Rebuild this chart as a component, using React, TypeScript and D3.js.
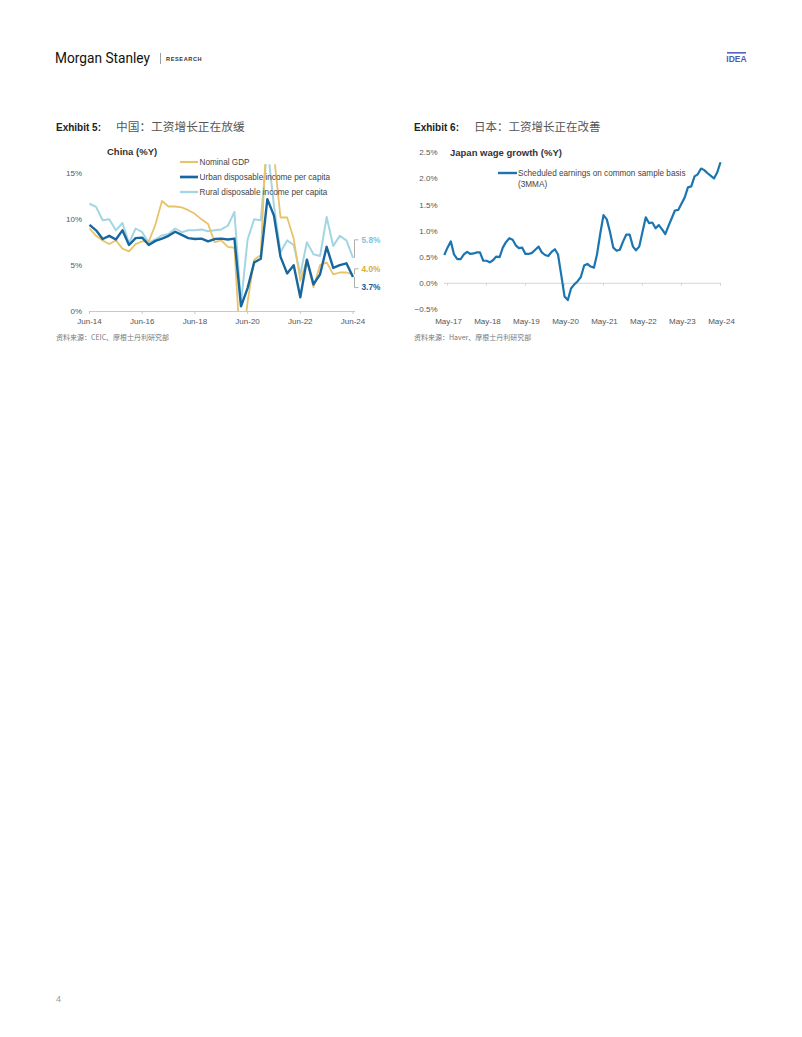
import React from "react";
import * as d3 from "d3";

const FONT = "'Liberation Sans', Arial, Helvetica, sans-serif";
const CJK = "'Noto Sans CJK SC', 'Noto Sans', sans-serif";

// ---------- Exhibit 5: China ----------
const chinaQuarters = [
  "Jun-14","Sep-14","Dec-14","Mar-15","Jun-15","Sep-15","Dec-15","Mar-16","Jun-16","Sep-16",
  "Dec-16","Mar-17","Jun-17","Sep-17","Dec-17","Mar-18","Jun-18","Sep-18","Dec-18","Mar-19",
  "Jun-19","Sep-19","Dec-19","Mar-20","Jun-20","Sep-20","Dec-20","Mar-21","Jun-21","Sep-21",
  "Dec-21","Mar-22","Jun-22","Sep-22","Dec-22","Mar-23","Jun-23","Sep-23","Dec-23","Mar-24","Jun-24",
];
const nominalGDP = [
  9.0, 8.2, 7.7, 7.3, 7.7, 6.8, 6.5, 7.3, 7.6, 7.6,
  9.4, 12.0, 11.4, 11.4, 11.3, 11.0, 10.6, 10.0, 9.5, 7.5,
  7.7, 7.0, 6.9, -5.3, 1.0, 5.6, 6.1, 21.2, 17.0, 10.2,
  10.2, 7.9, 3.3, 5.6, 2.6, 5.0, 5.3, 4.0, 4.2, 4.2, 4.0,
];
const urbanIncome = [
  9.4, 8.8, 7.85, 8.2, 7.8, 8.8, 7.2, 7.95, 8.0, 7.2,
  7.65, 7.9, 8.2, 8.65, 8.3, 7.95, 7.85, 7.9, 7.6, 7.85,
  7.9, 7.8, 7.9, 0.5, 2.5, 5.3, 5.7, 12.2, 10.4, 5.9,
  4.1, 5.0, 1.5, 5.6, 2.9, 4.0, 7.0, 4.7, 5.0, 5.2, 3.7,
];
const ruralIncome = [
  11.7, 11.35, 9.9, 10.0, 8.8, 9.6, 7.4, 9.0, 8.6, 7.45,
  7.8, 8.25, 8.4, 9.0, 8.6, 8.8, 8.8, 8.9, 8.7, 8.8,
  8.9, 9.3, 10.8, 0.8, 7.8, 10.0, 9.9, 18.0, 11.5, 6.4,
  7.7, 7.2, 4.0, 7.5, 6.2, 6.0, 10.25, 7.1, 8.2, 7.7, 5.8,
];
const chinaTickLabels = ["Jun-14", "Jun-16", "Jun-18", "Jun-20", "Jun-22", "Jun-24"];
const chinaYTicks = [0, 5, 10, 15];
const chinaSeriesNames = [
  "Nominal GDP",
  "Urban disposable income per capita",
  "Rural disposable income per capita",
];
const chinaEndLabels = ["5.8%", "4.0%", "3.7%"];

// ---------- Exhibit 6: Japan ----------
const japanStart = "2017-04";
const japanWage = [
  0.54, 0.68, 0.80, 0.55, 0.46, 0.46, 0.55, 0.60, 0.56, 0.57,
  0.59, 0.59, 0.43, 0.43, 0.40, 0.44, 0.51, 0.50, 0.68, 0.79,
  0.86, 0.83, 0.72, 0.67, 0.68, 0.56, 0.56, 0.58, 0.64, 0.70,
  0.59, 0.54, 0.52, 0.60, 0.65, 0.55, 0.15, -0.25, -0.32, -0.10,
  -0.02, 0.04, 0.12, 0.34, 0.37, 0.32, 0.30, 0.55, 0.95, 1.30,
  1.22, 0.98, 0.68, 0.62, 0.64, 0.80, 0.93, 0.93, 0.70, 0.63,
  0.70, 0.98, 1.26, 1.15, 1.16, 1.05, 1.11, 1.03, 0.94, 1.10,
  1.25, 1.39, 1.40, 1.52, 1.64, 1.83, 1.85, 2.04, 2.08, 2.19,
  2.16, 2.10, 2.05, 2.00, 2.12, 2.31,
];
const japanTickLabels = ["May-17", "May-18", "May-19", "May-20", "May-21", "May-22", "May-23", "May-24"];
const japanYTicks = [-0.5, 0, 0.5, 1.0, 1.5, 2.0, 2.5];

const GDP_C = "#E8C36A";
const URB_C = "#17679E";
const RUR_C = "#A3D6E2";
const JP_C = "#1C75B0";
const TXT = "#444";
const TICK = "#555";

function ChinaChart() {
  const x = d3.scaleLinear().domain([0, chinaQuarters.length - 1]).range([89.5, 353]);
  const y = d3.scaleLinear().domain([0, 15]).range([311, 173.5]);
  const yTop = y(16);
  const line = d3
    .line<number>()
    .x((_, i) => x(i))
    .y((d) => y(d));
  const series = [
    { data: ruralIncome, color: RUR_C, w: 2 },
    { data: nominalGDP, color: GDP_C, w: 1.8 },
    { data: urbanIncome, color: URB_C, w: 2.4 },
  ];
  const legend = [
    { name: chinaSeriesNames[0], color: GDP_C, w: 1.8 },
    { name: chinaSeriesNames[1], color: URB_C, w: 2.4 },
    { name: chinaSeriesNames[2], color: RUR_C, w: 2 },
  ];
  const last = chinaQuarters.length - 1;
  const ends = [
    { v: ruralIncome[last], label: chinaEndLabels[0], color: "#7FC3DC", off: -18 },
    { v: nominalGDP[last], label: chinaEndLabels[1], color: "#D9AE33", off: -5.5 },
    { v: urbanIncome[last], label: chinaEndLabels[2], color: "#1A5C93", off: 10.5 },
  ];
  const endX = x(last);
  return (
    <g>
      <defs>
        <clipPath id="chinaClip">
          <rect x={80} y={yTop} width={290} height={y(0) - yTop} />
        </clipPath>
      </defs>
      <text x={56} y={131} fontFamily={FONT} fontWeight="bold" fontSize={10} fill="#222">
        Exhibit 5:
      </text>
      <text x={116} y={131} fontFamily={CJK} fontSize={11.7} fill="#555">
        中国：工资增长正在放缓
      </text>
      <text x={107} y={155} fontFamily={FONT} fontWeight="bold" fontSize={9.5} fill="#333">
        China (%Y)
      </text>
      {chinaYTicks.map((t) => (
        <text key={t} x={82} y={y(t)} dy="0.35em" textAnchor="end" fontFamily={FONT} fontSize={8} fill={TICK}>
          {t}%
        </text>
      ))}
      <line x1={89} x2={355} y1={y(0) + 0.5} y2={y(0) + 0.5} stroke="#bbb" strokeWidth={0.8} />
      {chinaTickLabels.map((l) => {
        const i = chinaQuarters.indexOf(l);
        return (
          <g key={l}>
            <line x1={x(i)} x2={x(i)} y1={y(0) + 0.5} y2={y(0) + 3} stroke="#bbb" strokeWidth={0.8} />
            <text x={x(i)} y={323.5} textAnchor="middle" fontFamily={FONT} fontSize={8} fill={TICK}>
              {l}
            </text>
          </g>
        );
      })}
      <g clipPath="url(#chinaClip)">
        {series.map((s, k) => (
          <path key={k} d={line(s.data) || ""} fill="none" stroke={s.color} strokeWidth={s.w} strokeLinejoin="round" />
        ))}
      </g>
      {legend.map((l, k) => (
        <g key={l.name}>
          <line x1={180} x2={198} y1={162 + k * 15} y2={162 + k * 15} stroke={l.color} strokeWidth={l.w + 0.3} />
          <text x={199.5} y={162 + k * 15} dy="0.35em" fontFamily={FONT} fontSize={8.2} fill={TXT}>
            {l.name}
          </text>
        </g>
      ))}
      {ends.map((e) => {
        const ly = y(e.v) + e.off;
        return (
          <g key={e.label}>
            <polyline
              points={`${endX + 1.5},${y(e.v)} ${endX + 1.5},${ly} ${endX + 5.5},${ly}`}
              fill="none"
              stroke="#999"
              strokeWidth={0.8}
            />
            <text x={361.5} y={ly} dy="0.35em" fontFamily={FONT} fontWeight="bold" fontSize={8.3} fill={e.color}>
              {e.label}
            </text>
          </g>
        );
      })}
      <text x={56} y={340} fontFamily={CJK} fontSize={7} fill="#777">
        资料来源：CEIC、摩根士丹利研究部
      </text>
    </g>
  );
}

function JapanChart() {
  const [sy, sm] = japanStart.split("-").map(Number);
  const months = japanWage.map((_, i) => new Date(sy, sm - 1 + i, 1));
  const x = d3.scaleTime().domain([months[0], months[months.length - 1]]).range([444.3, 720.5]);
  const y = d3.scaleLinear().domain([-0.5, 2.5]).range([309.5, 152.3]);
  const line = d3
    .line<number>()
    .x((_, i) => x(months[i]))
    .y((d) => y(d));
  const tickDates = japanTickLabels.map((l) => new Date(2000 + Number(l.slice(4)), 4, 1));
  const fmt = d3.format(".1f");
  return (
    <g>
      <text x={414} y={131} fontFamily={FONT} fontWeight="bold" fontSize={10} fill="#222">
        Exhibit 6:
      </text>
      <text x={474} y={131} fontFamily={CJK} fontSize={11.5} fill="#555">
        日本：工资增长正在改善
      </text>
      <text x={450} y={156} fontFamily={FONT} fontWeight="bold" fontSize={9.5} fill="#333">
        Japan wage growth (%Y)
      </text>
      {japanYTicks.map((t) => (
        <text key={t} x={437.5} y={y(t)} dy="0.35em" textAnchor="end" fontFamily={FONT} fontSize={8} fill={TICK}>
          {fmt(t)}%
        </text>
      ))}
      <line x1={444} x2={721} y1={y(0)} y2={y(0)} stroke="#ccc" strokeWidth={0.8} />
      {tickDates.map((d, k) => (
        <g key={k}>
          <line x1={x(d)} x2={x(d)} y1={y(0)} y2={y(0) + 2.5} stroke="#ccc" strokeWidth={0.8} />
          <text x={x(d) + 1} y={323.5} textAnchor="middle" fontFamily={FONT} fontSize={8} fill={TICK}>
            {japanTickLabels[k]}
          </text>
        </g>
      ))}
      <path d={line(japanWage) || ""} fill="none" stroke={JP_C} strokeWidth={2.2} strokeLinejoin="round" />
      <line x1={498} x2={517} y1={173} y2={173} stroke={JP_C} strokeWidth={2.4} />
      <text x={518} y={173} dy="0.35em" fontFamily={FONT} fontSize={8.2} fill={TXT}>
        Scheduled earnings on common sample basis
      </text>
      <text x={518} y={184} dy="0.35em" fontFamily={FONT} fontSize={8.2} fill={TXT}>
        (3MMA)
      </text>
      <text x={414} y={340} fontFamily={CJK} fontSize={7} fill="#777">
        资料来源：Haver、摩根士丹利研究部
      </text>
    </g>
  );
}

export default function App() {
  return (
    <svg
      width={802}
      height={1037}
      viewBox="0 0 802 1037"
      style={{ position: "absolute", left: 0, top: 0, background: "#fff" }}
    >
      <rect x={0} y={0} width={802} height={1037} fill="#fff" />
      {/* header */}
      <text x={55} y={63} fontFamily="Roboto, sans-serif" fontSize={15} fill="#111" textLength={95} lengthAdjust="spacingAndGlyphs">
        Morgan Stanley
      </text>
      <line x1={160.5} x2={160.5} y1={53} y2={64} stroke="#888" strokeWidth={0.8} />
      <text x={166} y={60.5} fontFamily={FONT} fontWeight="bold" fontSize={5.6} letterSpacing={0.6} fill="#333">
        RESEARCH
      </text>
      <rect x={727} y={52} width={19} height={1.6} fill="#5563B8" />
      <text x={736.5} y={62} textAnchor="middle" fontFamily={FONT} fontWeight="bold" fontSize={8.5} fill="#4D5DB5">
        IDEA
      </text>
      <ChinaChart />
      <JapanChart />
      <text x={56} y={1002} fontFamily={FONT} fontSize={9} fill="#999">
        4
      </text>
    </svg>
  );
}
